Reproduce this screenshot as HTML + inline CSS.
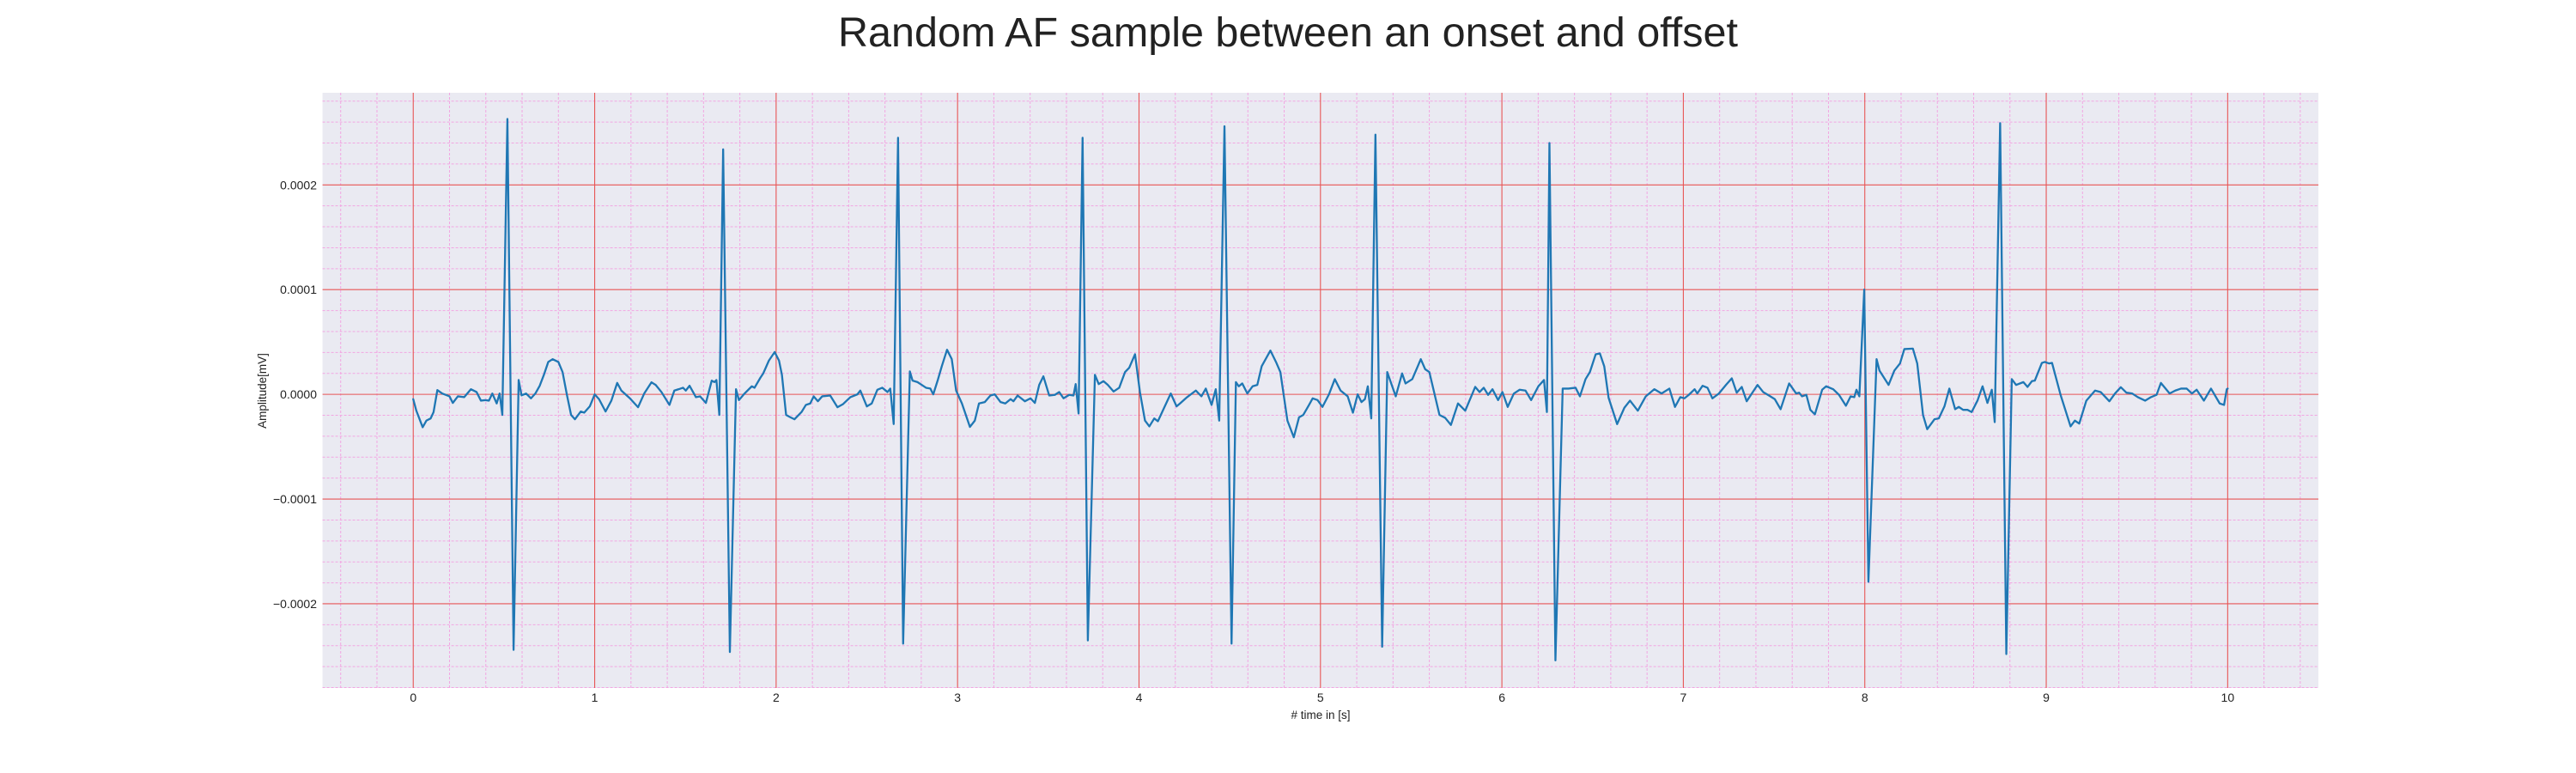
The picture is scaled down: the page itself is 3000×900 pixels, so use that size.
<!DOCTYPE html>
<html><head><meta charset="utf-8"><style>
html,body{margin:0;padding:0;background:#fff;}
svg{display:block;font-family:"Liberation Sans",Arial,sans-serif;}
</style></head><body>
<svg id="chart" width="3000" height="900" viewBox="0 0 3000 900" xmlns="http://www.w3.org/2000/svg">
<rect width="3000" height="900" fill="#ffffff"/>
<text x="1500" y="54" font-size="48.5" text-anchor="middle" fill="#222">Random AF sample between an onset and offset</text>
<rect x="375.6" y="108" width="2324.4" height="693" fill="#eaeaf2"/>
<g id="grid"></g>
<g id="ticks"></g>
<g id="series"></g>
<text x="1538" y="837" font-size="13.5" text-anchor="middle" fill="#222"># time in [s]</text>
<text transform="translate(310,455) rotate(-90)" font-size="13.5" text-anchor="middle" fill="#222">Amplitude[mV]</text>
</svg>
<script>
// time (s) and amplitude (in units of 1e-5 mV)
const times = [0,.017,.052,.073,.096,.112,.133,.16,.2,.218,.246,.281,.318,.349,.373,.397,.417,.436,.46,.476,.491,.519,.553,.581,.597,.622,.649,.673,.697,.72,.744,.768,.8,.823,.847,.87,.891,.923,.942,.973,1.0,1.024,1.06,1.092,1.124,1.147,1.194,1.239,1.273,1.313,1.336,1.368,1.412,1.439,1.463,1.487,1.502,1.523,1.558,1.581,1.613,1.645,1.66,1.671,1.687,1.708,1.745,1.779,1.795,1.826,1.866,1.881,1.913,1.929,1.96,1.992,2.016,2.032,2.055,2.079,2.101,2.14,2.164,2.188,2.207,2.23,2.254,2.298,2.338,2.369,2.409,2.448,2.464,2.5,2.527,2.558,2.585,2.614,2.629,2.648,2.672,2.700,2.737,2.752,2.779,2.803,2.826,2.85,2.866,2.89,2.913,2.942,2.968,2.992,3.024,3.068,3.095,3.118,3.15,3.181,3.205,3.237,3.263,3.292,3.308,3.331,3.371,3.402,3.426,3.45,3.473,3.505,3.536,3.56,3.584,3.615,3.639,3.651,3.667,3.689,3.718,3.757,3.778,3.804,3.828,3.86,3.891,3.923,3.946,3.978,4.005,4.033,4.057,4.084,4.104,4.136,4.175,4.207,4.226,4.265,4.313,4.344,4.368,4.4,4.423,4.442,4.471,4.51,4.534,4.55,4.569,4.597,4.626,4.652,4.676,4.724,4.755,4.779,4.818,4.853,4.882,4.905,4.937,4.957,4.984,5.011,5.047,5.079,5.111,5.15,5.179,5.205,5.226,5.245,5.261,5.28,5.303,5.34,5.368,5.39,5.415,5.45,5.469,5.506,5.553,5.577,5.6,5.656,5.687,5.719,5.758,5.798,5.853,5.877,5.9,5.924,5.948,5.979,6.003,6.032,6.066,6.098,6.13,6.161,6.201,6.232,6.248,6.262,6.295,6.335,6.367,6.406,6.43,6.461,6.485,6.517,6.54,6.564,6.588,6.635,6.675,6.706,6.749,6.793,6.84,6.88,6.923,6.954,6.983,7.006,7.03,7.062,7.077,7.106,7.133,7.16,7.196,7.235,7.267,7.294,7.322,7.349,7.409,7.44,7.472,7.504,7.536,7.583,7.622,7.638,7.654,7.678,7.7,7.725,7.765,7.787,7.826,7.858,7.896,7.922,7.942,7.954,7.97,7.997,8.02,8.065,8.081,8.131,8.163,8.194,8.218,8.265,8.289,8.321,8.344,8.384,8.408,8.439,8.466,8.498,8.518,8.542,8.566,8.589,8.621,8.649,8.676,8.7,8.716,8.746,8.78,8.81,8.834,8.874,8.897,8.921,8.937,8.976,8.992,9.016,9.032,9.079,9.134,9.158,9.182,9.221,9.269,9.3,9.348,9.379,9.411,9.442,9.474,9.505,9.545,9.577,9.608,9.632,9.68,9.711,9.743,9.774,9.803,9.829,9.869,9.908,9.956,9.98,9.995,10.0];
const amplitudes = [-.46,-1.56,-3.14,-2.5,-2.3,-1.7,.41,.08,-.19,-.82,-.19,-.27,.49,.22,-.6,-.55,-.6,.08,-.87,.08,-1.97,26.3,-24.4,1.37,-.1,.08,-.38,.08,.82,1.86,3.09,3.36,3.09,2.13,-.05,-1.97,-2.38,-1.64,-1.75,-1.15,0,-.46,-1.64,-.6,1.09,.36,-.38,-1.23,.08,1.15,.9,.22,-1.01,.36,.49,.63,.36,.82,-.27,-.19,-.82,1.31,1.17,1.37,-1.97,23.4,-24.6,.49,-.55,.08,.77,.63,1.58,2.0,3.22,4.04,3.22,1.86,-1.97,-2.19,-2.38,-1.69,-1.01,-.87,-.19,-.66,-.19,-.11,-1.23,-.93,-.27,0,.36,-1.15,-.87,.44,.63,.22,.55,-2.84,24.5,-23.8,2.19,1.31,1.17,.9,.63,.55,0,1.31,2.68,4.26,3.36,.36,-.87,-3.11,-2.51,-.87,-.74,-.11,0,-.74,-.87,-.46,-.66,-.11,-.66,-.38,-.82,.9,1.72,-.11,-.05,.22,-.38,-.05,-.11,.98,-1.83,24.5,-23.5,1.86,.98,1.26,.9,.27,.63,2.13,2.54,3.83,.22,-2.51,-3.06,-2.3,-2.57,-1.37,.08,-1.15,-.87,-.27,.36,-.19,.55,-1.01,.49,-2.51,25.6,-23.8,1.17,.77,1.04,.08,.77,.9,2.68,4.18,3.09,2.13,-2.51,-4.1,-2.19,-1.97,-1.01,-.38,-.55,-1.2,0,1.45,.36,-.19,-1.75,0,-.74,-.46,.77,-2.3,24.8,-24.1,2.13,1.04,-.19,2.0,1.04,1.45,3.36,2.4,2.13,-1.97,-2.24,-2.92,-.87,-1.56,.71,.22,.63,-.05,.49,-.55,.22,-1.2,.08,.44,.36,-.55,.77,1.37,-1.69,24.0,-25.4,.55,.55,.63,-.19,1.45,2.13,3.83,3.91,2.68,-.33,-2.84,-1.28,-.6,-1.56,-.19,.49,.08,.55,-1.2,-.27,-.38,-.05,.49,.08,.82,.63,-.38,.08,.9,1.53,.16,.71,-.66,.9,.22,-.11,-.46,-1.42,1.04,.08,.16,-.19,-.05,-1.48,-1.91,.44,.77,.49,-.05,-1.09,-.19,-.27,.44,-.19,10.0,-17.9,3.36,2.27,.9,2.27,2.95,4.32,4.37,2.95,-1.97,-3.33,-2.38,-2.3,-1.15,.55,-1.42,-1.2,-1.48,-1.48,-1.69,-.6,.77,-.82,.44,-2.65,25.9,-24.8,1.45,.9,1.17,.71,1.26,1.31,3.0,3.09,2.95,3.0,-.05,-3.06,-2.51,-2.79,-.6,.36,.22,-.66,.08,.68,.16,.08,-.27,-.6,-.27,-.05,1.09,.08,.36,.55,.55,.08,.44,-.6,.55,-.87,-1.01,.49,.55];
const xTickValues = [0,1,2,3,4,5,6,7,8,9,10];
const xTickLabels = ["0","1","2","3","4","5","6","7","8","9","10"];
const yTickValues = [-20,-10,0,10,20];
const yTickLabels = ["\u22120.0002","\u22120.0001","0.0000","0.0001","0.0002"];

const NS="http://www.w3.org/2000/svg";
const X0=375.6, X1=2700, Y0=108, Y1=801;
const xMin=-0.5, xMax=10.5, yMin=-28.04, yMax=28.8;
function sx(t){return X0+(t-xMin)/(xMax-xMin)*(X1-X0);}
function sy(v){return Y1-(v-yMin)/(yMax-yMin)*(Y1-Y0);}
function mk(tag,attrs,parent){const e=document.createElementNS(NS,tag);for(const k in attrs)e.setAttribute(k,attrs[k]);parent.appendChild(e);return e;}
const grid=document.getElementById('grid'), ticks=document.getElementById('ticks'), series=document.getElementById('series');
for(let i=-2;i<=52;i++){const t=i*0.2; if(t<xMin||t>xMax) continue; if(Math.abs(t-Math.round(t))<1e-6) continue;
 const l=mk('line',{x1:sx(t),x2:sx(t),y1:Y0,y2:Y1,stroke:'#f2a6e2','stroke-width':1,'stroke-dasharray':'3,2'},grid);
 
 }
for(let i=-14;i<=14;i++){const v=i*2; if(v<yMin||v>yMax) continue; if(v%10===0) continue;
 const l=mk('line',{x1:X0,x2:X1,y1:sy(v),y2:sy(v),stroke:'#f2a6e2','stroke-width':1,'stroke-dasharray':'3,2'},grid);
 
 }
xTickValues.forEach((t,i)=>{
 const l=mk('line',{x1:sx(t),x2:sx(t),y1:Y0,y2:Y1,stroke:'#e85555','stroke-width':1.1},grid);
 
 
 const tx=mk('text',{x:sx(t),y:817,'font-size':14,'text-anchor':'middle',fill:'#222'},ticks);
 tx.textContent=xTickLabels[i];
 
 
});
yTickValues.forEach((v,i)=>{
 const l=mk('line',{x1:X0,x2:X1,y1:sy(v),y2:sy(v),stroke:'#e85555','stroke-width':1.1},grid);
 
 
 const tx=mk('text',{x:369,y:sy(v)+5,'font-size':14,'text-anchor':'end',fill:'#222'},ticks);
 tx.textContent=yTickLabels[i];
 
 
});
let d='';
times.forEach((t,i)=>{d+=(i?'L':'M')+sx(t).toFixed(2)+','+sy(amplitudes[i]).toFixed(2);});
const p=mk('path',{d:d,fill:'none',stroke:'#1f77b4','stroke-width':2.3,'stroke-linejoin':'round','stroke-linecap':'round'},series);


</script>
</body></html>
